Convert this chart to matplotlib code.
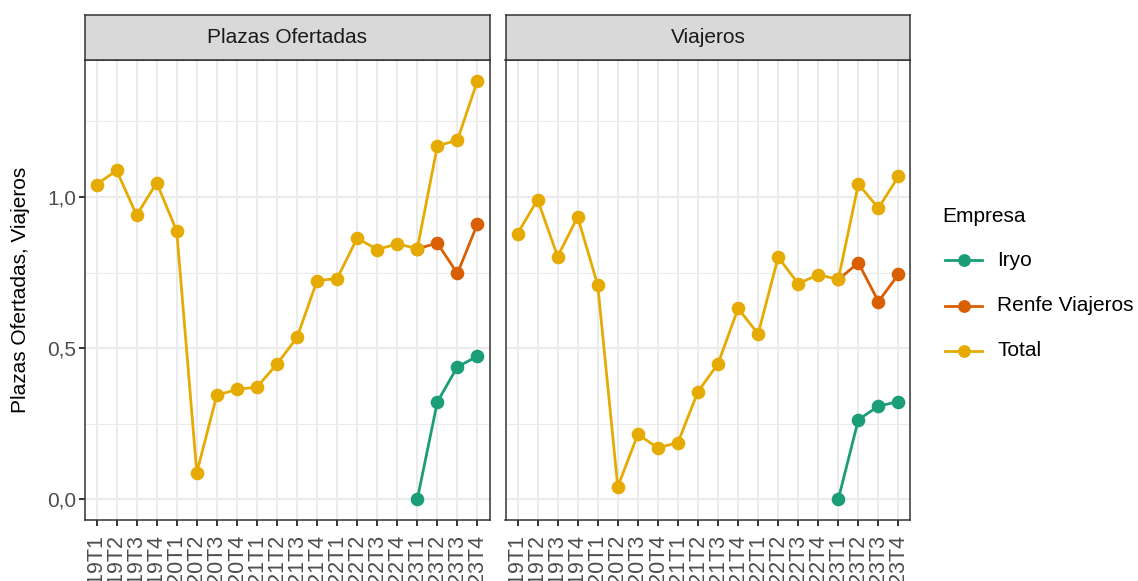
import numpy as np
import matplotlib.pyplot as plt
from matplotlib.lines import Line2D

plt.rcParams['font.family'] = ['Liberation Sans', 'DejaVu Sans']

periodos = ['2019T1', '2019T2', '2019T3', '2019T4',
            '2020T1', '2020T2', '2020T3', '2020T4',
            '2021T1', '2021T2', '2021T3', '2021T4',
            '2022T1', '2022T2', '2022T3', '2022T4',
            '2023T1', '2023T2', '2023T3', '2023T4']
periodos_2023 = ['2023T1', '2023T2', '2023T3', '2023T4']

total_plazas = [1.041, 1.088, 0.940, 1.047, 0.887, 0.088, 0.344, 0.363, 0.371, 0.447,
                0.535, 0.723, 0.730, 0.864, 0.826, 0.845, 0.829, 1.169, 1.188, 1.385]
renfe_plazas = [0.829, 0.847, 0.747, 0.911]
iryo_plazas = [0.0, 0.322, 0.438, 0.473]

total_viajeros = [0.879, 0.991, 0.803, 0.934, 0.708, 0.041, 0.214, 0.170, 0.187, 0.356,
                  0.448, 0.631, 0.547, 0.801, 0.713, 0.743, 0.727, 1.043, 0.963, 1.068]
renfe_viajeros = [0.727, 0.782, 0.654, 0.744]
iryo_viajeros = [0.0, 0.263, 0.308, 0.323]

empresas = ['Iryo', 'Renfe Viajeros', 'Total']
colores = {'Iryo': '#1B9E77', 'Renfe Viajeros': '#D95F02', 'Total': '#E6AB02'}

W, H = 1138, 581
fig = plt.figure(figsize=(W / 100, H / 100), dpi=100)


def px(l, t, r, b):
    return [l / W, 1 - b / H, (r - l) / W, (b - t) / H]


paneles = [
    ('Plazas Ofertadas', total_plazas, renfe_plazas, iryo_plazas, 84.5),
    ('Viajeros', total_viajeros, renfe_viajeros, iryo_viajeros, 505.5),
]

pos = {p: i for i, p in enumerate(periodos)}
for k, (titulo, total, renfe, iryo, left) in enumerate(paneles):
    ax = fig.add_axes(px(left, 59.5, left + 405, 520))
    series = [('Iryo', periodos_2023, iryo),
              ('Renfe Viajeros', periodos_2023, renfe),
              ('Total', periodos, total)]
    for nombre, per, vals in series:
        xs = [pos[p] for p in per]
        ax.plot(xs, vals, color=colores[nombre], lw=2.0, marker='o', ms=8.8, zorder=3)

    ax.set_xlim(-0.6, len(periodos) - 0.4)
    ax.set_ylim(-0.069, 1.455)
    ax.set_xticks(range(len(periodos)))
    ax.set_xticklabels(periodos, rotation=90, fontsize=15.5, color='#4D4D4D')
    ax.set_yticks([0, 0.5, 1.0])
    ax.set_yticks([0.25, 0.75, 1.25], minor=True)
    ax.grid(which='major', color='#EBEBEB', lw=1.5)
    ax.grid(which='minor', axis='y', color='#EBEBEB', lw=0.8)
    ax.set_axisbelow(True)
    ax.tick_params(which='minor', length=0)
    ax.tick_params(which='major', length=4, width=1.4, color='#333333', pad=2)
    ax.tick_params(axis='x', which='major', pad=6)
    if k == 0:
        ax.set_yticklabels(['0,0', '0,5', '1,0'], fontsize=15, color='#4D4D4D')
    else:
        ax.tick_params(axis='y', which='major', length=0, labelleft=False)
    for s in ax.spines.values():
        s.set_color('#333333')
        s.set_linewidth(1.1)

    sax = fig.add_axes(px(left, 15, left + 405, 59.5))
    sax.set_facecolor('#D9D9D9')
    sax.set_xticks([])
    sax.set_yticks([])
    for s in sax.spines.values():
        s.set_color('#333333')
        s.set_linewidth(1.1)
    sax.text(0.5, 0.5, titulo, ha='center', va='center', fontsize=15,
             color='#1A1A1A', transform=sax.transAxes)

fig.text(21 / W, 1 - 290 / H, 'Plazas Ofertadas, Viajeros', rotation=90,
         ha='center', va='center', fontsize=15)

# leyenda
fig.text(942 / W, 1 - 216 / H, 'Empresa', ha='left', va='center', fontsize=15)
for i, nombre in enumerate(empresas):
    yy = 1 - (260 + 45.5 * i) / H
    fig.add_artist(Line2D([945 / W, 982 / W], [yy, yy], color=colores[nombre], lw=2.0,
                          transform=fig.transFigure))
    fig.add_artist(Line2D([963.5 / W], [yy], color=colores[nombre], marker='o', ms=8.2,
                          transform=fig.transFigure))
    fig.text(997 / W, yy, nombre, ha='left', va='center', fontsize=15)

fig.savefig('out.png', dpi=100)
